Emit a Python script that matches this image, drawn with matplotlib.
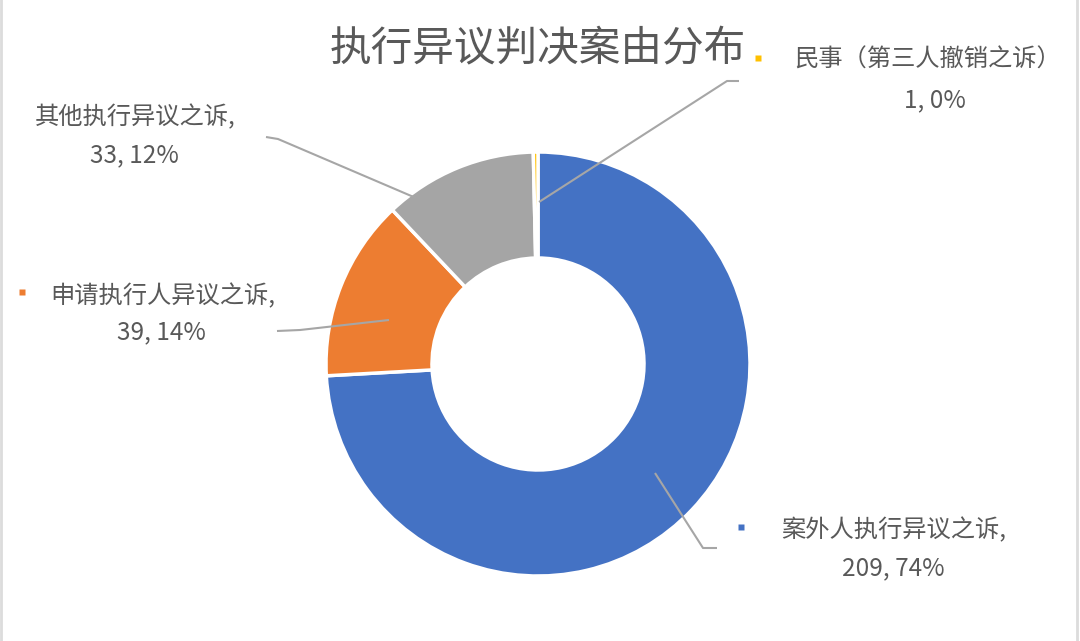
import matplotlib
matplotlib.use("Agg")
import matplotlib.pyplot as plt

plt.rcParams['font.family'] = ['Noto Sans CJK SC', 'DejaVu Sans']

categories = ['案外人执行异议之诉', '申请执行人异议之诉', '其他执行异议之诉', '民事（第三人撤销之诉）']
values = [209, 39, 33, 1]
percent_labels = ['74%', '14%', '12%', '0%']
colors = ['#4472C4', '#ED7D31', '#A5A5A5', '#FFC000']
title = '执行异议判决案由分布'

W, H = 1080, 641
fig = plt.figure(figsize=(W / 100, H / 100), dpi=100)
ax = fig.add_axes([0, 0, 1, 1])
ax.set_xlim(0, W)
ax.set_ylim(0, H)
ax.set_aspect('equal')
ax.axis('off')

def Y(py):
    return H - py

cx, cy, R = 538, 364, 212
ax.pie(values, colors=colors, startangle=90, counterclock=False,
       center=(cx, Y(cy)), radius=R, frame=True,
       wedgeprops=dict(width=R * 0.5, edgecolor='white', linewidth=2.5))
ax.set_xlim(0, W)
ax.set_ylim(0, H)
ax.axis('off')

txt = '#595959'
lc = '#A6A6A6'
fs = 17.5

ax.text(538, Y(50), title, fontsize=30, color=txt, ha='center', va='center')

# leader lines (pixel coords)
leaders = [
    [(655, 473), (703, 548), (717, 548)],
    [(389, 320), (300, 330), (277, 331)],
    [(416, 198), (278, 139), (266, 137)],
    [(539, 202), (727, 81), (739, 81)],
]
for pts in leaders:
    ax.plot([p[0] for p in pts], [Y(p[1]) for p in pts], color=lc, lw=1.5,
            solid_capstyle='butt')

# labels: (line1 center x, line1 y, line2 center x, line2 y, marker)
label_pos = [
    (894, 530, 893, 568, (741, 527)),
    (163, 296, 161, 332, (22, 292)),
    (135, 117, 134, 155, None),
    (928, 60, 935, 100, (758, 58)),
]
for i, (x1, y1, x2, y2, mk) in enumerate(label_pos):
    comma = ',' if i < 3 else ''
    ax.text(x1, Y(y1), categories[i] + comma, fontsize=fs, color=txt,
            ha='center', va='center')
    ax.text(x2, Y(y2), f'{values[i]}, {percent_labels[i]}', fontsize=fs,
            color=txt, ha='center', va='center')
    if mk is not None:
        ax.plot(mk[0], Y(mk[1]), marker='s', ms=5, color=colors[i], mec='none')

# chart border lines
ax.plot([1, 1], [0, H], color='#DCDCDC', lw=2)
ax.plot([1077, 1077], [0, H], color='#DCDCDC', lw=2)

fig.savefig('out.png', dpi=100)
